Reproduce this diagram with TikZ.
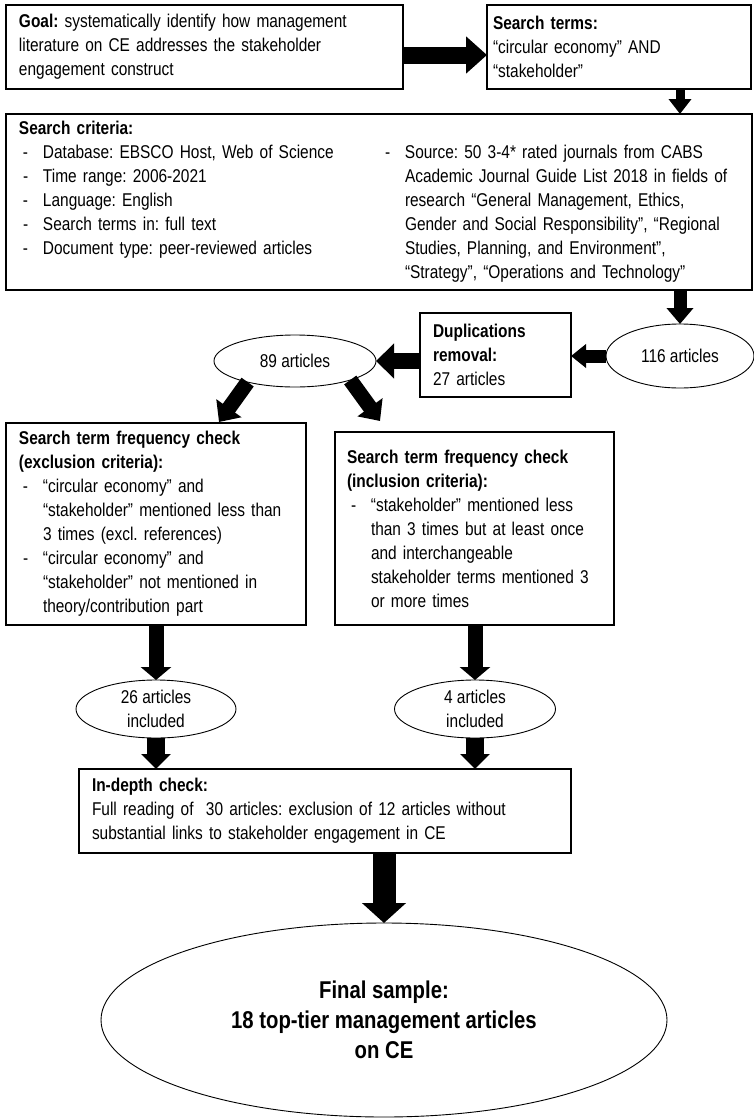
\documentclass[tikz,border=0pt]{standalone}
\usepackage{fontspec}
\setmainfont{Liberation Sans}[FakeStretch=0.835]
\usetikzlibrary{arrows.meta,shapes.geometric}

% list lines: a dash item and its continuation, never broken
\newcommand\li[1]{\mbox{\makebox[24pt][l]{\hspace{4pt}-}#1}}
\newcommand\lc[1]{\mbox{\hspace*{24pt}#1}}

\begin{document}
\begin{tikzpicture}[x=1pt,y=-1pt,
  txt/.style={font=\fontsize{18.5}{24}\selectfont\frenchspacing},
  box/.style={draw, line width=1.1pt, rectangle, inner ysep=0pt, outer sep=0pt, align=left, txt},
  oval/.style={draw, ellipse, line width=0.9pt, inner sep=0pt, outer sep=0pt, align=center, txt},
  blk/.style n args={3}{line width=#1, -{Triangle[width=#2,length=#3]}}
]
\useasboundingbox[fill=white] (0,0) rectangle (754,1119);

% boxes
\node[box, minimum width=397pt, minimum height=84pt, text width=371pt, inner xsep=13pt] (goal) at (204.5,47)
  {\textbf{Goal:} systematically identify how management\\literature on CE addresses the stakeholder\\engagement construct};
\node[box, minimum width=264pt, minimum height=84pt, text width=252pt, inner xsep=6pt] (search) at (619,47)
  {\textbf{Search terms:}\\“circular economy” AND\\“stakeholder”};
\node[box, minimum width=746pt, minimum height=176pt, text width=720pt, inner xsep=13pt] (crit) at (379,202)
  {\textbf{Search criteria:}\\
   \begin{minipage}[t]{362pt}
   \li{Database: EBSCO Host, Web of Science}\\
   \li{Time range: 2006-2021}\\
   \li{Language: English}\\
   \li{Search terms in: full text}\\
   \li{Document type: peer-reviewed articles}
   \end{minipage}%
   \begin{minipage}[t]{358pt}
   \li{Source: 50 3-4* rated journals from CABS}\\
   \lc{Academic Journal Guide List 2018 in fields of}\\
   \lc{research “General Management, Ethics,}\\
   \lc{Gender and Social Responsibility”, “Regional}\\
   \lc{Studies, Planning, and Environment”,}\\
   \lc{“Strategy”, “Operations and Technology”}
   \end{minipage}};
\node[box, minimum width=151pt, minimum height=84pt, text width=125pt, inner xsep=13pt] (dup) at (495.5,355)
  {\textbf{Duplications}\\\textbf{removal:}\\27 articles};
\node[box, minimum width=300pt, minimum height=202pt, text width=274pt, inner xsep=13pt] (lbox) at (156,524)
  {\textbf{Search term frequency check}\\\textbf{(exclusion criteria):}\\
   \li{“circular economy” and}\\
   \lc{“stakeholder” mentioned less than}\\
   \lc{3 times (excl. references)}\\
   \li{“circular economy” and}\\
   \lc{“stakeholder” not mentioned in}\\
   \lc{theory/contribution part}};
\node[box, minimum width=279pt, minimum height=193pt, text width=255pt, inner xsep=12pt] (rbox) at (474.5,528.5)
  {\textbf{Search term frequency check}\\\textbf{(inclusion criteria):}\\
   \li{“stakeholder” mentioned less}\\
   \lc{than 3 times but at least once}\\
   \lc{and interchangeable}\\
   \lc{stakeholder terms mentioned 3}\\
   \lc{or more times}};
\node[box, minimum width=492pt, minimum height=84pt, text width=466pt, inner xsep=13pt] (indepth) at (325,811)
  {\textbf{In-depth check:}\\Full reading of \ 30 articles: exclusion of 12 articles without\\substantial links to stakeholder engagement in CE};

% ellipses
\node[oval, minimum width=162pt, minimum height=52pt] (n89) at (295,361) {89 articles};
\node[oval, minimum width=148pt, minimum height=64pt] (n116) at (680,356) {116 articles};
\node[oval, minimum width=160pt, minimum height=58pt] (n26) at (156,709) {26 articles\\included};
\node[oval, minimum width=161pt, minimum height=58pt] (n4) at (475,709) {4 articles\\included};
\node[oval, minimum width=566pt, minimum height=194pt, font=\fontsize{24.3}{30}\selectfont\bfseries] (final) at (384,1020)
  {Final sample:\\18 top-tier management articles\\on CE};

% arrow ends above the lower boxes
\coordinate (ltip) at (219,422);
\coordinate (rtip) at (380,421);

% connectors
\draw[blk={17pt}{36pt}{21pt}] ([yshift=-8pt]goal.east) -- ([yshift=-8pt]search.west);
\draw[blk={9pt}{22pt}{15pt}] (search.south -| n116) -- (crit.north -| n116);
\draw[blk={13pt}{26pt}{16pt}] (crit.south -| n116) -- (n116.north);
\draw[blk={13pt}{23pt}{15pt}] (n116.west) -- (dup.east |- n116.west);
\draw[blk={16pt}{34pt}{18pt}] (dup.west |- n89) -- (n89.east);
\draw[blk={15pt}{30pt}{17pt}] (n89.204) -- (ltip);
\draw[blk={15pt}{30pt}{17pt}] (n89.341) -- (rtip);
\draw[blk={15pt}{30pt}{13pt}] (lbox.south -| n26) -- (n26.north);
\draw[blk={15pt}{30pt}{13pt}] (rbox.south -| n4) -- (n4.north);
\draw[blk={18pt}{29pt}{15pt}] (n26.south) -- (indepth.north -| n26);
\draw[blk={18pt}{29pt}{15pt}] (n4.south) -- (indepth.north -| n4);
\draw[blk={23pt}{43pt}{20pt}] (indepth.south -| final.north) -- (final.north);
\end{tikzpicture}
\end{document}
